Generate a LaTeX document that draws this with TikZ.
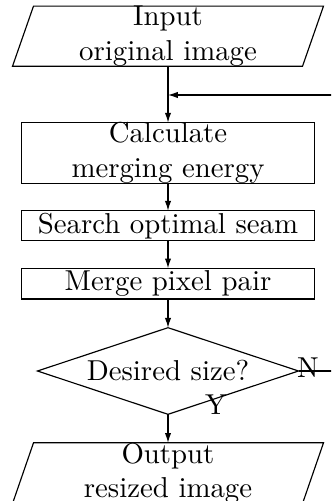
\documentclass[tikz,border=0pt]{standalone}
\usetikzlibrary{arrows.meta,calc}
\begin{document}
\begin{tikzpicture}[x=0.34722pt,y=-0.34722pt,
  every node/.style={inner sep=0pt, outer sep=0pt},
  box/.style={draw, minimum width=101.6pt, align=center},
  io/.style={minimum width=100.69pt, minimum height=20pt, align=center},
  decision/.style={minimum width=90.63pt, minimum height=30.07pt, align=center},
  lbl/.style={anchor=base},
  arr/.style={-{Latex[length=3.4pt,width=2.2pt]}}]
\clip (0,0) rectangle (331,501);
% input
\node[io] (in) at (168,36.2) {Input\\original image};
\draw ($(in.south west)+(-10.5,0)$) -- ($(in.south east)+(-10.5,0)$)
  -- ($(in.north east)+(10.5,0)$) -- ($(in.north west)+(10.5,0)$) -- cycle;
% process boxes
\node[box, minimum height=20.6pt] (calc) at (168,153) {Calculate\\merging energy};
\node[box, minimum height=10.42pt] (srch) at (168,225.7) {Search optimal seam};
\node[box, minimum height=10.66pt] (merge) at (168,283.65) {Merge pixel pair};
% decision
\node[decision] (d) at (168,371) {Desired size?};
\draw (d.north) -- (d.east) -- (d.south) -- (d.west) -- cycle;
% output
\node[io] (out) at (168,473.2) {Output\\resized image};
\draw ($(out.south west)+(-10.5,0)$) -- ($(out.south east)+(-10.5,0)$)
  -- ($(out.north east)+(10.5,0)$) -- ($(out.north west)+(10.5,0)$) -- cycle;
% labels
\node[lbl] (n) at (308,377.7) {N};
\node[lbl] (y) at (216,414.3) {Y};
% connectors
\coordinate (rx) at (345,95);
\coordinate (j) at (in.south |- rx);
\draw (in.south) -- (j);
\draw[arr] (j) -- (calc.north);
\draw[arr] (calc.south) -- (srch.north);
\draw[arr] (srch.south) -- (merge.north);
\draw[arr] (merge.south) -- (d.north);
\draw[arr] (d.south) -- (out.north);
\draw[arr] (d.east) -| (rx) -- (j);
\end{tikzpicture}
\end{document}
